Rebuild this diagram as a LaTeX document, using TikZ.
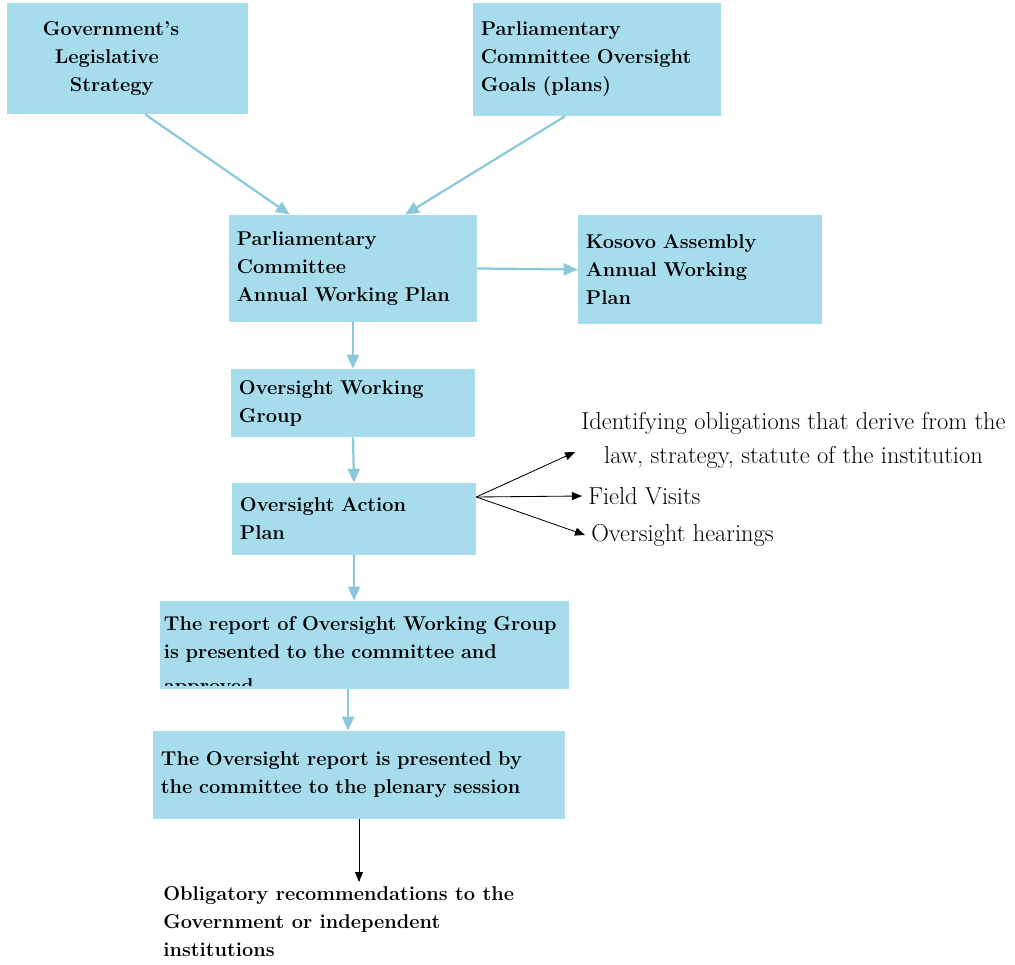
\documentclass[tikz,border=0pt]{standalone}
\usepackage{tikz}
\usepackage{trimclip}
\usetikzlibrary {arrows.meta}

\definecolor{boxblue}{RGB}{166,220,236}
\definecolor{linkblue}{RGB}{140,200,218}

\tikzset{
  box/.style={fill=boxblue, align=left, inner xsep=0.2cm, inner ysep=0.1cm,
    font=\fontsize{14.2}{19.9}\selectfont\bfseries},
  note/.style={inner sep=0.15cm, font=\fontsize{17.4}{24.1}\selectfont},
  link/.style={draw=linkblue, line width=1.6pt, -{Triangle[length=3.5mm,width=3mm]}},
  pointer/.style={draw=black, line width=0.6pt, -{Triangle[length=2.5mm,width=2mm]}}
}

\begin{document}
\begin{tikzpicture}[x=0.025cm, y=-0.025cm]
    \useasboundingbox (0,0) rectangle (1015,965);
    \node[box, text width=5.625cm, minimum height=2.775cm] (gov) at (127.5,58.5) {\hspace*{0.7cm}Government's\\\hspace*{1cm}Legislative\\\hspace*{1.375cm}Strategy};
    \node[box, text width=5.8cm, minimum height=2.825cm] (goals) at (597,59.5) {Parliamentary\\Committee Oversight\\Goals (plans)};
    \node[box, text width=5.8cm, minimum height=2.675cm] (annual) at (353,268.5) {Parliamentary\\Committee\\Annual Working Plan};
    \node[box, text width=5.7cm, minimum height=2.725cm] (assembly) at (700,269.5) {Kosovo Assembly\\Annual Working\\Plan};
    \node[box, text width=5.7cm, minimum height=1.7cm] (group) at (353,403) {Oversight Working\\Group};
    \node[box, text width=5.7cm, minimum height=1.8cm] (action) at (354,519) {Oversight Action\\Plan};
    \node[box, inner xsep=0.1cm, inner ysep=0.02cm, text width=10.025cm, minimum height=2.2cm] (report) at (364.5,645) {\rule{0pt}{0.65cm}The report of Oversight Working Group\\is presented to the committee and\\\clipbox{0pt 0.5em 0pt 0pt}{approved}};
    \node[box, text width=9.9cm, minimum height=2.2cm] (plenary) at (359,775) {The Oversight report is presented by\\the committee to the plenary session};
    \node[box, fill=none, inner xsep=0.15cm, anchor=north west] (recs) at (157,882) {Obligatory recommendations to the\\Government or independent\\institutions};

    \node[note, align=center] (ident) at (793.5,440) {Identifying obligations that derive from the\\law, strategy, statute of the institution};
    \node[note, anchor=west] (visits) at (582,496) {Field Visits};
    \node[note, anchor=west] (hearings) at (585,535) {Oversight hearings};

    \draw[link] ([xshift=0.44cm]gov.south) -- ([xshift=-1.58cm]annual.north);
    \draw[link] ([xshift=-0.8cm]goals.south) -- ([xshift=1.3cm]annual.north);
    \draw[link] (annual.east) -- (assembly.west);
    \draw[link] (annual.south) -- (group.north);
    \draw[link] (group.south) -- (action.north);
    \draw[link] (action.south) -- (action.south |- report.north);
    \draw[link] ([xshift=-0.41cm]report.south) -- ([xshift=-0.41cm]report.south |- plenary.north);
    \draw[pointer] (plenary.south) -- (plenary.south |- recs.north);

    \draw[pointer] ([yshift=0.55cm]action.east) -- ([yshift=-0.3cm]ident.west);
    \draw[pointer] ([yshift=0.55cm]action.east) -- (visits.west);
    \draw[pointer] ([yshift=0.55cm]action.east) -- (hearings.west);
\end{tikzpicture}
\end{document}
